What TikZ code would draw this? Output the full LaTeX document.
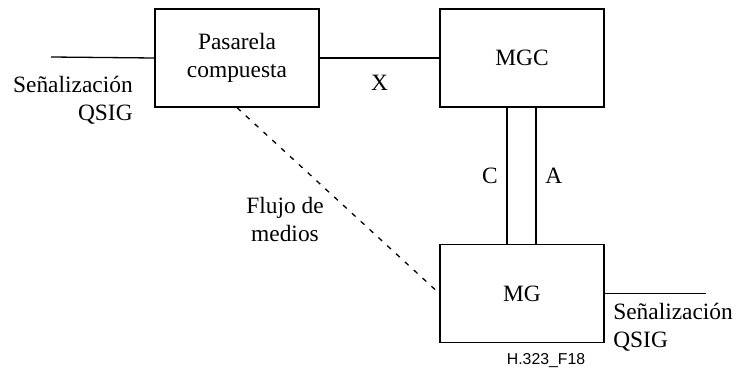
\documentclass[tikz,border=0pt]{standalone}
\usepackage{fontspec}
\setmainfont{Liberation Serif}
\newfontfamily\figfont{Liberation Sans}
\begin{document}
\begin{tikzpicture}
[x=0.5pt, y=-0.5pt, line width=0.65pt,
 texto/.style={font=\fontsize{11.7}{14}\selectfont, align=center},
 caja/.style={draw, texto, minimum width=82pt, minimum height=49pt, inner sep=0pt}]
\useasboundingbox (0,0) rectangle (739,374);
% bloques
\node [caja] (pas) at (237,58) {Pasarela\\compuesta};
\node [caja] (mgc) at (522,58) {MGC};
\node [caja] (mg) at (522,293.5) {MG};
% extremos de la senalizacion
\coordinate (sigL) at (51,57);
\coordinate (sigR) at (706,293.5);
\draw (sigL) -- (pas.west);
\draw (pas.east) -- (mgc.west) node [texto, midway, below=5pt] (x) {X};
\draw (mg.east) -- (sigR);
\draw ([xshift=-7.5pt]mgc.south) -- ([xshift=-7.5pt]mg.north) node [texto, midway, left=1pt] (c) {C};
\draw ([xshift=7pt]mgc.south) -- ([xshift=7pt]mg.north) node [texto, midway, right=1pt] (a) {A};
\draw [dash pattern=on 2.5pt off 3.5pt] (pas.south) -- (mg.west);
% textos
\node [texto, align=right, anchor=north east] (sl) at (140,69) {Señalización\\QSIG};
\node [texto, align=left, anchor=north west] (sr) at (606,296) {Señalización\\QSIG};
\node [texto] (flujo) at (285,219) {Flujo de\\medios};
\node [font=\figfont\fontsize{7.9}{9}\selectfont] (fig) at (546,361) {H.323\_F18};
\end{tikzpicture}
\end{document}
